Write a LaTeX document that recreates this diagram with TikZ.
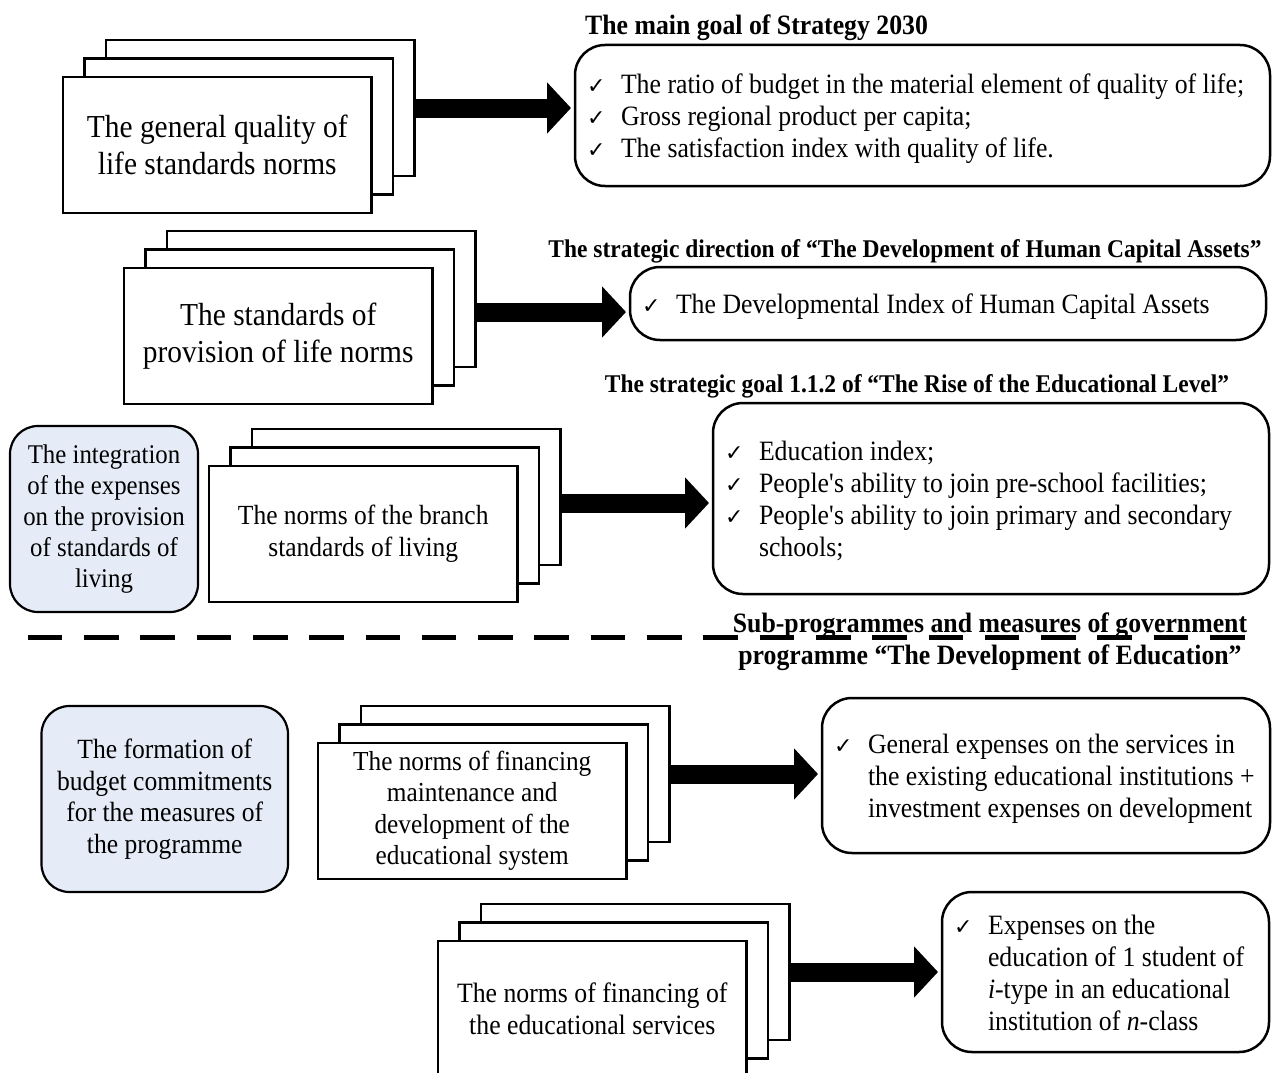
\documentclass[tikz,border=0pt]{standalone}
\usepackage{fontspec}
\setmainfont{Liberation Serif}[FakeStretch=0.92]
\newfontfamily\ckfont{DejaVu Sans}
\usetikzlibrary{arrows.meta}
\definecolor{bluefill}{RGB}{230,236,247}
\tikzset{
  sheet/.style={draw, fill=white, line width=2.2pt, inner sep=0pt, outer sep=0pt,
    minimum width=308.5pt, minimum height=136pt, align=center, anchor=north west},
  goalbox/.style={draw, line width=2.5pt, rounded corners=30pt, inner xsep=12pt,
    inner ysep=0pt, outer sep=0pt, anchor=north west,
    font=\fontsize{28}{32}\selectfont},
  bluebox/.style={draw, fill=bluefill, line width=2.2pt, rounded corners=28pt,
    align=center, inner sep=0pt, outer sep=0pt},
  bigarrow/.style={line width=19pt, shorten >=4pt, -{Triangle[length=24pt,width=50pt]}},
  ttl/.style={font=\fontsize{25.5}{30}\selectfont\bfseries, inner sep=0pt},
  bigttl/.style={font=\fontsize{28}{32}\selectfont\bfseries, inner sep=0pt, align=center},
  separator/.style={line width=5pt, dash pattern=on 34.6pt off 21.7pt},
}
\newcommand\ck{\makebox[34pt][l]{\ckfont\fontsize{22}{22}\selectfont ✓}}
\newcommand\ind{\hspace*{34pt}}
\newcommand\items[2]{\raisebox{-4pt}[\height][\depth]{\makebox[#1][l]{\begin{tabular}{@{}l@{}}#2\end{tabular}}}}
\newcommand\threesheets[5]{%
  \node[sheet] (#1b) at ({#2+43},{#3-37}) {};
  \node[sheet] (#1m) at ({#2+21.5},{#3-18.5}) {};
  \node[sheet, font=#4] (#1) at (#2,#3) {#5};
}
\begin{document}
\begin{tikzpicture}[x=1pt, y=-1pt]
\fill[white] (0,0) rectangle (1274,1073);
\useasboundingbox (0,0) rectangle (1274,1073);

% stacks of sheets
\threesheets{s1}{63}{77}{\fontsize{32}{36.5}\selectfont}{The general quality of\\life standards norms}
\threesheets{s2}{124}{268}{\fontsize{32}{36.5}\selectfont}{The standards of\\provision of life norms}
\threesheets{s3}{209}{466}{\fontsize{27.7}{32}\selectfont}{The norms of the branch\\standards of living}
\threesheets{s4}{318}{743}{\fontsize{27.5}{31.5}\selectfont}{The norms of financing\\maintenance and\\development of the\\educational system}
\threesheets{s5}{438}{941}{\fontsize{28}{31.5}\selectfont}{The norms of financing of\\the educational services}

% blue boxes
\node[bluebox, minimum width=188pt, minimum height=186pt, font=\fontsize{27}{31}\selectfont]
  (blue1) at (104,519) {The integration\\of the expenses\\on the provision\\of standards of\\living};
\node[bluebox, minimum width=246.5pt, minimum height=186pt, font=\fontsize{27.8}{31.5}\selectfont]
  (blue2) at (164.75,799) {The formation of\\budget commitments\\for the measures of\\the programme};

% goal boxes
\node[goalbox, minimum width=695pt, minimum height=141pt] (goal1) at (575,45)
  {\items{671pt}{\ck The ratio of budget in the material element of quality of life;\\
   \ck Gross regional product per capita;\\
   \ck The satisfaction index with quality of life.}};
\node[goalbox, minimum width=636pt, minimum height=73pt] (goal2) at (630,267)
  {\items{612pt}{\ck The Developmental Index of Human Capital Assets}};
\node[goalbox, minimum width=556pt, minimum height=191pt] (goal3) at (713,403)
  {\items{532pt}{\ck Education index;\\
   \ck People\textquotesingle s ability to join pre-school facilities;\\
   \ck People\textquotesingle s ability to join primary and secondary\\
   \ind schools;}};
\node[goalbox, minimum width=448pt, minimum height=155pt] (goal4) at (822,698)
  {\items{424pt}{\ck General expenses on the services in\\
   \ind the existing educational institutions +\\
   \ind investment expenses on development}};
\node[goalbox, minimum width=327pt, minimum height=160pt] (goal5) at (942,892)
  {\items{303pt}{\ck Expenses on the\\
   \ind education of 1 student of\\
   \ind \textit{i}-type in an educational\\
   \ind institution of \textit{n}-class}};

% titles
\node[bigttl, anchor=west] (t1) at (585,28) {The main goal of Strategy 2030};
\node[ttl] (t2) at (905,251) {The strategic direction of “The Development of Human Capital Assets”};
\node[ttl] (t3) at (917,386) {The strategic goal 1.1.2 of “The Rise of the Educational Level”};

% separator
\coordinate (sepL) at (27.7,637.5);
\coordinate (sepR) at (1247.5,637.5);
\draw[separator] (sepL) -- (sepR);
\node[bigttl] (t4) at (990,642) {Sub-programmes and measures of government\\programme “The Development of Education”};

% arrows
\draw[bigarrow] (s1b.east) -- (s1b.east -| goal1.west);
\draw[bigarrow] ([yshift=-13pt]s2b.east) -- ([yshift=-13pt]s2b.east -| goal2.west);
\draw[bigarrow] ([yshift=-6pt]s3b.east) -- ([yshift=-6pt]s3b.east -| goal3.west);
\draw[bigarrow] (s4b.east) -- (s4b.east -| goal4.west);
\draw[bigarrow] (s5b.east) -- (s5b.east -| goal5.west);
\end{tikzpicture}
\end{document}
